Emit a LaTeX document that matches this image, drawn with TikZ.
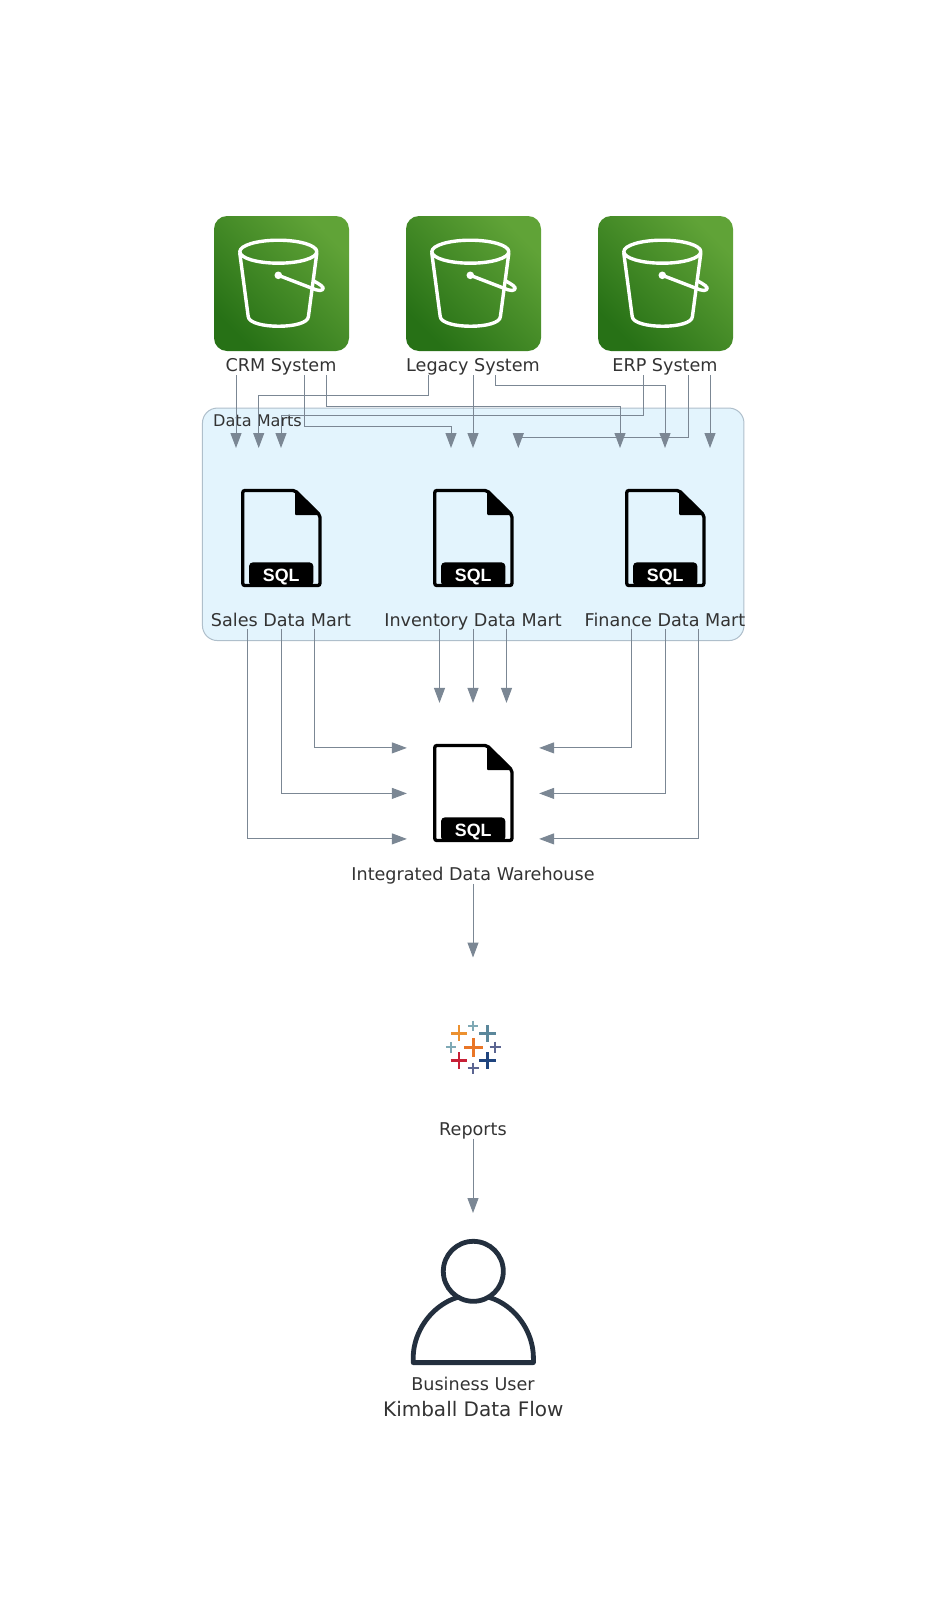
\documentclass[tikz,border=0pt]{standalone}
\usepackage{fontspec}
\setmainfont{DejaVu Sans}
\newfontfamily\sqlfont[BoldFont={Liberation Sans Bold}]{Liberation Sans}
\usetikzlibrary{arrows.meta,calc}
\definecolor{flowc}{HTML}{7B8794}
\definecolor{clusterfill}{HTML}{E3F4FD}
\definecolor{clusterline}{HTML}{AFBFCB}
\definecolor{txt}{HTML}{333333}
\definecolor{userc}{HTML}{232F3E}
\definecolor{bgreen}{HTML}{277116}
\definecolor{tgreen}{HTML}{60A337}
\definecolor{tborange}{RGB}{233,118,39}
\definecolor{tbyellow}{RGB}{236,145,48}
\definecolor{tbsteel}{RGB}{91,135,155}
\definecolor{tbteal}{RGB}{127,169,181}
\definecolor{tbpurple}{RGB}{91,101,145}
\definecolor{tbred}{RGB}{199,32,55}
\definecolor{tbnavy}{RGB}{31,68,126}
\tikzset{
  flow/.style={draw=flowc,line width=1pt,-{Triangle[length=15pt,width=11pt,color=flowc]}},
  hub/.style={inner sep=0pt,outer sep=0pt,minimum width=133pt,minimum height=181pt},
  lab/.style={text=txt,inner sep=0pt,anchor=base,font=\fontsize{17.6}{20}\selectfont},
  bucketbox/.style={inner sep=0pt,outer sep=0pt,minimum width=135pt,minimum height=135pt,rounded corners=13pt,
     shading=axis,left color=tgreen,right color=bgreen,shading angle=-45},
  bucketline/.style={draw=white,line width=3.4pt,line cap=round,line join=round},
}
\newcommand{\bucketicon}[1]{%
  \begin{scope}[shift={(#1)}]
    \draw[bucketline] (-2.7,-31.8) ellipse [x radius=38.5,y radius=11.5];
    \draw[bucketline] (-41.2,-30.2) -- (-32.8,33)
       .. controls (-31.6,46) and (27,46) .. (27.4,33) -- (35.8,-30.2);
    \fill[white] (-2.7,-8.2) circle (3.8);
    \draw[bucketline] (-2.7,-8.2) -- (35,6.3)
       .. controls (41,8.5) and (44.5,5) .. (40.5,2.3) .. controls (38.5,0.5) and (35,-1.2) .. (32.8,-2.5);
  \end{scope}}
\newcommand{\sqldoc}[1]{%
  \begin{scope}[shift={(#1)}]
    \draw[black,line width=3.3pt,rounded corners=2pt] (-38.2,-47.5) -- (14,-47.5) -- (38.9,-23) -- (38.9,47.5) -- (-38.2,47.5) -- cycle;
    \fill[black,rounded corners=1pt] (14,-47.5) -- (38.9,-23) -- (14,-23) -- cycle;
    \fill[black,rounded corners=4pt] (-32,48) -- (-32,24.3) -- (32.4,24.3) -- (32.4,48) -- cycle;
    \node[inner sep=0pt,text=white,font=\sqlfont\bfseries\fontsize{17.8}{18}\selectfont] at (0.2,38.8) {SQL};
  \end{scope}}
\newcommand{\tabcross}[5]{% x y half width colour
  \draw[#5,line width=#4pt] (#1-#3,#2) -- (#1+#3,#2) (#1,#2-#3) -- (#1,#2+#3);}
\begin{document}
\begin{tikzpicture}[x=1pt,y=-1pt]
\useasboundingbox (0,0) rectangle (947,1619);
% cluster
\node[draw=clusterline,fill=clusterfill,line width=1pt,rounded corners=15pt,inner sep=0pt,minimum width=541.5pt,minimum height=232.5pt] (marts) at (473.2,524.3) {};
\node[anchor=base west,text=txt,inner sep=0pt,font=\fontsize{16.1}{18}\selectfont] (martsl) at (213,426) {Data Marts};
% layout boxes (invisible)
\node[hub] (crm) at (281,284.5) {};
\node[hub] (legacy) at (473,284.5) {};
\node[hub] (erp) at (665,284.5) {};
\node[hub] (sales) at (281,538.5) {};
\node[hub] (inv) at (473,538.5) {};
\node[hub] (fin) at (665,538.5) {};
\node[hub,minimum width=132.3pt] (dw) at (473,793.4) {};
\node[hub] (rep) at (473,1048) {};
\node[hub] (usr) at (473,1303.5) {};
% sources
\node[bucketbox] (crmb) at (281.5,283.5) {};
\node[bucketbox] (legacyb) at (473.5,283.5) {};
\node[bucketbox] (erpb) at (665.5,283.5) {};
\bucketicon{281,283.5}\bucketicon{473,283.5}\bucketicon{665,283.5}
\node[lab] (crml) at (281,371.3) {CRM System};
\node[lab] (legacyl) at (473,371.3) {Legacy System};
\node[lab] (erpl) at (665,371.3) {ERP System};
% marts
\sqldoc{281,538}\sqldoc{473,538}\sqldoc{665,538}
\node[lab] (salesl) at (281,626.3) {Sales Data Mart};
\node[lab] (invl) at (473,626.3) {Inventory Data Mart};
\node[lab] (finl) at (665,626.3) {Finance Data Mart};
% dw
\sqldoc{473,793}
\node[lab] (dwl) at (473,880) {Integrated Data Warehouse};
% tableau
\tabcross{473.3}{1047.3}{9.2}{3}{tborange}
\tabcross{459}{1033.3}{8}{2.6}{tbyellow}
\tabcross{487.7}{1033.3}{8.3}{2.6}{tbsteel}
\tabcross{473.3}{1025.7}{5}{1.7}{tbteal}
\tabcross{451}{1047.3}{5.2}{1.7}{tbteal}
\tabcross{495.3}{1047.3}{5.8}{2}{tbpurple}
\tabcross{459}{1060.7}{8.3}{2.6}{tbred}
\tabcross{487.7}{1060.7}{8.3}{2.6}{tbnavy}
\tabcross{473.3}{1068.3}{5.8}{2}{tbpurple}
\node[lab] (repl) at (473,1135.5) {Reports};
% user
\draw[userc,line width=4.8pt,line join=round,fill=white] (413.2,1362.6) -- (413.2,1358)
   .. controls (413.2,1326) and (440,1295) .. (473.3,1295)
   .. controls (507,1295) and (533.4,1326) .. (533.4,1358) -- (533.4,1362.6) -- cycle;
\draw[userc,line width=4.8pt,fill=white] (473.3,1271.3) circle (30);
\node[lab] (usrl) at (473,1390.2) {Business User};
\node[text=txt,inner sep=0pt,anchor=base,font=\fontsize{20}{22}\selectfont] (title) at (473.3,1416) {Kimball Data Flow};
% connectors
\draw[flow] ([xshift=-45pt]crm.south) -- ([xshift=-45pt]sales.north);
\draw[flow] ([xshift=23pt]crm.south) -- ++(0,51.7) -| ([xshift=-22pt]inv.north);
\draw[flow] ([xshift=45pt]crm.south) -- ++(0,31.7) -| ([xshift=-45pt]fin.north);
\draw[flow] ([xshift=-44.3pt]legacy.south) -- ++(0,20.7) -| ([xshift=-22.3pt]sales.north);
\draw[flow] (legacy.south) -- (inv.north);
\draw[flow] ([xshift=22.7pt]legacy.south) -- ++(0,10) -| (fin.north);
\draw[flow] ([xshift=-22pt]erp.south) -- ++(0,40.7) -| (sales.north);
\draw[flow] ([xshift=23pt]erp.south) -- ++(0,62.3) -| ([xshift=45.3pt]inv.north);
\draw[flow] ([xshift=45pt]erp.south) -- ([xshift=45pt]fin.north);
\draw[flow] ([xshift=-33.5pt]sales.south) |- ([yshift=-45.5pt]dw.west);
\draw[flow] (sales.south) |- (dw.west);
\draw[flow] ([xshift=33.5pt]sales.south) |- ([yshift=45.5pt]dw.west);
\draw[flow] ([xshift=-33.5pt]inv.south) -- ([xshift=-33.5pt]dw.north);
\draw[flow] (inv.south) -- (dw.north);
\draw[flow] ([xshift=33.5pt]inv.south) -- ([xshift=33.5pt]dw.north);
\draw[flow] ([xshift=-33.5pt]fin.south) |- ([yshift=45.5pt]dw.east);
\draw[flow] (fin.south) |- (dw.east);
\draw[flow] ([xshift=33.5pt]fin.south) |- ([yshift=-45.5pt]dw.east);
\draw[flow] (dw.south) -- (rep.north);
\draw[flow] (rep.south) -- (usr.north);
\end{tikzpicture}
\end{document}
